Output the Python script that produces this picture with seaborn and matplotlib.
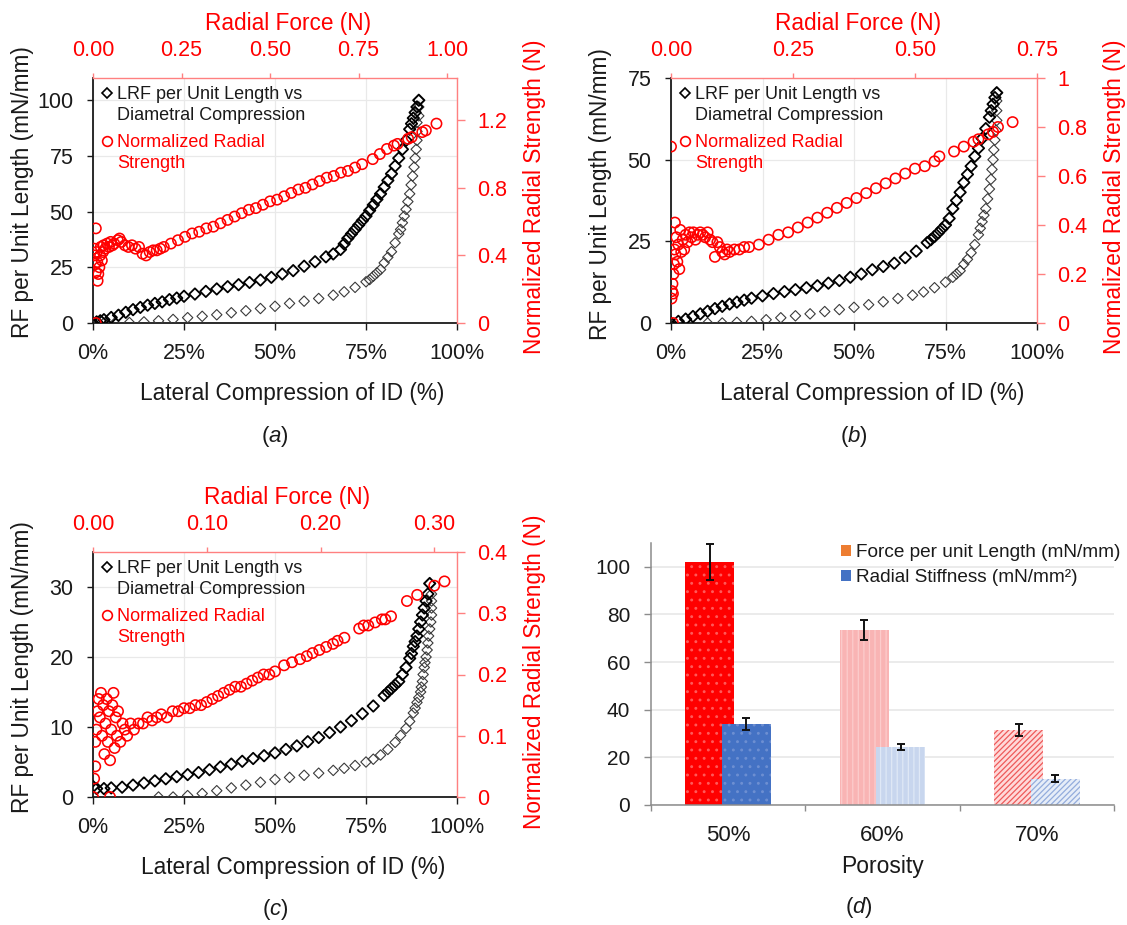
import matplotlib
matplotlib.use("Agg")
import numpy as np
import matplotlib.pyplot as plt
import seaborn as sns
from matplotlib.lines import Line2D
from matplotlib.patches import Patch
from matplotlib.ticker import PercentFormatter, FormatStrFormatter, FuncFormatter, FixedLocator

# ---------------- data ----------------
# Panel (a)
A_load_x = [0, 1, 2, 3, 5, 7, 9, 11, 13, 15, 17, 19, 21, 23, 25, 28, 31, 34, 37, 40, 43, 46, 49, 52, 55,
            58, 61, 64, 66, 68, 69, 70, 71, 72, 73, 74, 75, 76, 77, 78, 79, 80, 81, 82, 83, 84, 85, 86,
            87, 87.5, 88, 88.5, 89, 89.5]
A_load_y = [0, 0.5, 1, 1.5, 2.5, 3.5, 4.8, 6, 7, 8, 8.8, 9.5, 10.5, 11.2, 12, 13, 14.2, 15.3, 16.3, 17.2,
            18.2, 19.3, 20.5, 22, 23.5, 25.5, 27.5, 29.7, 31, 33, 35.5, 38, 40, 42, 44, 46, 48, 50.5, 53,
            55.5, 58, 61, 64, 67, 70.5, 74, 78, 82, 87, 89.5, 92, 94.5, 97, 100]
A_unload_x = [89.5, 89.5, 89.5, 89, 89, 89, 88.8, 88.5, 88.2, 87.8, 87.4, 87, 86.5, 86, 85.5, 85, 84.5,
              84, 83, 82, 81, 80, 79, 78, 77, 76, 75, 72, 69, 66, 62, 58, 54, 50, 46, 42, 38, 34, 30,
              26, 22, 18, 14, 10, 6, 3]
A_unload_y = [100, 97, 93, 90, 86, 82, 78, 74, 70, 66, 62, 58, 54.5, 51, 48, 45, 42, 40, 36, 32, 29.5,
              27, 24, 22.5, 21, 19.5, 18.5, 16, 14, 12.5, 11, 9.8, 8.8, 7.5, 6.5, 5.5, 4.6, 3.7, 3, 2.4,
              1.6, 1, 0.5, 0.2, 0, 0]
A_force = [0.008, 0.008, 0.003, 0.005, 0.006, 0.008, 0.010, 0.012, 0.013, 0.015, 0.018, 0.020, 0.022,
           0.025, 0.028, 0.030, 0.035, 0.040, 0.045, 0.050, 0.055, 0.060, 0.070, 0.075, 0.080, 0.090,
           0.100, 0.110, 0.120, 0.130, 0.140, 0.150, 0.160, 0.170, 0.180, 0.190, 0.200, 0.220, 0.240,
           0.260, 0.280, 0.300, 0.320, 0.340, 0.360, 0.380, 0.400, 0.420, 0.440, 0.460, 0.480, 0.500,
           0.520, 0.540, 0.560, 0.580, 0.600, 0.620, 0.640, 0.660, 0.680, 0.700, 0.720, 0.740, 0.760,
           0.790, 0.810, 0.830, 0.850, 0.860, 0.890, 0.900, 0.930, 0.940, 0.970]
A_norm = [0.00, 0.56, 0.44, 0.40, 0.35, 0.30, 0.42, 0.36, 0.25, 0.29, 0.33, 0.40, 0.45, 0.37, 0.42,
          0.46, 0.44, 0.47, 0.45, 0.48, 0.46, 0.47, 0.49, 0.50, 0.48, 0.46, 0.45, 0.46, 0.44, 0.45,
          0.41, 0.40, 0.42, 0.43, 0.43, 0.44, 0.45, 0.47, 0.49, 0.51, 0.53, 0.54, 0.56, 0.57, 0.59,
          0.61, 0.63, 0.65, 0.67, 0.68, 0.70, 0.72, 0.73, 0.75, 0.77, 0.79, 0.80, 0.82, 0.84, 0.86,
          0.87, 0.89, 0.90, 0.92, 0.94, 0.97, 1.00, 1.03, 1.05, 1.06, 1.09, 1.10, 1.13, 1.14, 1.18]

# Panel (b)
B_load_x = [0, 2, 4, 6, 8, 10, 12, 14, 16, 18, 20, 22, 25, 28, 31, 34, 37, 40, 43, 46, 49, 52, 55, 58,
            61, 64, 67, 70, 71, 72, 73, 74, 75, 76, 77, 78, 79, 80, 81, 82, 83, 84, 85, 86, 87, 87.5,
            88, 88.5, 89]
B_load_y = [0, 0.5, 1.2, 2, 2.8, 3.6, 4.4, 5.1, 5.8, 6.4, 7, 7.6, 8.3, 9, 9.6, 10.2, 10.8, 11.4, 12.2,
            13, 14, 15, 16.3, 17.3, 18.3, 20, 22, 24.6, 25.5, 26.5, 27.6, 28.8, 30, 32, 35, 37.5, 40,
            43, 45.5, 48, 51, 53.5, 56.5, 59.5, 63, 65, 67, 69, 70.5]
B_unload_x = [89, 89, 89, 89, 88.8, 88.5, 88.2, 88, 87.7, 87.4, 87, 86.5, 86, 85.5, 85, 84.5, 84, 83,
              82, 81, 80, 79, 78, 77, 75, 72, 69, 66, 62, 58, 54, 50, 46, 42, 38, 34, 30, 26, 22, 18,
              14, 10]
B_unload_y = [70.5, 68, 65, 62, 59, 56, 53, 50, 47, 44, 41, 38, 35, 33, 31, 29, 27, 24, 21.5, 19.5,
              18, 16, 15, 14, 12.5, 10.8, 9.5, 8.5, 7.5, 6.5, 5.6, 4.8, 4.1, 3.5, 2.8, 2.2, 1.6, 1, 0.5,
              0.2, 0, 0]
B_force = [0.004, 0.0, 0.001, 0.002, 0.003, 0.004, 0.005, 0.006, 0.007, 0.008, 0.009, 0.011, 0.013,
           0.015, 0.017, 0.019, 0.021, 0.024, 0.027, 0.030, 0.034, 0.038, 0.042, 0.046, 0.050, 0.055,
           0.060, 0.065, 0.070, 0.075, 0.080, 0.085, 0.090, 0.095, 0.100, 0.105, 0.110, 0.115, 0.120,
           0.130, 0.140, 0.150, 0.160, 0.180, 0.200, 0.220, 0.240, 0.260, 0.280, 0.300, 0.320, 0.340,
           0.360, 0.380, 0.400, 0.420, 0.440, 0.460, 0.480, 0.500, 0.520, 0.540, 0.550, 0.580, 0.600,
           0.620, 0.630, 0.650, 0.660, 0.670, 0.700]
B_norm = [0.0, 0.72, 0.10, 0.13, 0.16, 0.12, 0.20, 0.24, 0.30, 0.41, 0.28, 0.35, 0.25, 0.32, 0.22,
          0.38, 0.29, 0.34, 0.30, 0.36, 0.33, 0.37, 0.35, 0.37, 0.34, 0.36, 0.37, 0.36, 0.35, 0.37,
          0.34, 0.33, 0.27, 0.33, 0.31, 0.29, 0.28, 0.30, 0.29, 0.30, 0.30, 0.31, 0.31, 0.32, 0.34,
          0.36, 0.37, 0.39, 0.41, 0.43, 0.45, 0.47, 0.49, 0.51, 0.53, 0.55, 0.57, 0.59, 0.61, 0.63,
          0.64, 0.66, 0.68, 0.70, 0.72, 0.74, 0.75, 0.77, 0.78, 0.80, 0.82]

# Panel (c)
C_load_x = [0, 1, 3, 5, 8, 11, 14, 17, 20, 23, 26, 29, 32, 35, 38, 41, 44, 47, 50, 53, 56, 59, 62, 65,
            68, 71, 74, 77, 80, 81, 82, 83, 84, 85, 86, 87, 87.5, 88, 88.5, 89, 89.5, 90, 90.5, 91, 91.5,
            92, 92.5]
C_load_y = [1.5, 1.2, 1.2, 1.3, 1.4, 1.7, 2, 2.3, 2.6, 2.9, 3.2, 3.5, 3.9, 4.3, 4.7, 5.1, 5.5, 5.9, 6.3,
            6.8, 7.3, 7.9, 8.5, 9.2, 10, 10.9, 11.9, 13, 14.5, 15, 15.5, 16, 16.5, 17.5, 18.5, 19.8,
            20.5, 21.5, 22.2, 23, 24, 25, 26, 27, 28, 29, 30.5]
C_unload_x = [92.5, 93, 93, 93, 93, 92.8, 92.5, 92.2, 92, 91.8, 91.5, 91.2, 91, 90.7, 90.5, 90.2, 90,
              89.5, 89, 88.5, 88, 87, 86, 84.5, 83, 81, 79, 77, 75, 72, 69, 66, 62, 58, 54, 50, 46,
              42, 38, 34, 30, 26, 22, 18]
C_unload_y = [30.5, 29, 28, 27, 26, 25, 24, 23, 22, 21, 20, 19.2, 18.5, 17.5, 16.5, 15.7, 15, 14.2,
              13.5, 12.7, 12, 10.8, 9.8, 8.8, 7.8, 6.8, 6, 5.4, 5, 4.5, 4.1, 3.8, 3.4, 3.1, 2.8, 2.5,
              2.1, 1.7, 1.3, 0.9, 0.5, 0.2, 0, 0]
C_force = [0.0, 0.015, 0.001, 0.002, 0.002, 0.003, 0.004, 0.005, 0.006, 0.007, 0.008, 0.009, 0.010,
           0.011, 0.012, 0.013, 0.014, 0.015, 0.016, 0.017, 0.018, 0.019, 0.020, 0.021, 0.022, 0.024,
           0.026, 0.028, 0.030, 0.033, 0.036, 0.040, 0.044, 0.048, 0.052, 0.056, 0.060, 0.065, 0.070,
           0.075, 0.080, 0.085, 0.090, 0.095, 0.100, 0.105, 0.110, 0.115, 0.120, 0.125, 0.130, 0.135,
           0.140, 0.145, 0.150, 0.155, 0.160, 0.168, 0.175, 0.182, 0.188, 0.193, 0.199, 0.205, 0.211,
           0.215, 0.221, 0.234, 0.238, 0.242, 0.248, 0.254, 0.257, 0.262, 0.276, 0.285, 0.300, 0.309]
C_norm = [0.0, 0.0, 0.03, 0.05, 0.09, 0.11, 0.14, 0.16, 0.13, 0.17, 0.10, 0.15, 0.07, 0.12, 0.16,
          0.09, 0.14, 0.06, 0.11, 0.15, 0.17, 0.08, 0.13, 0.10, 0.14, 0.09, 0.12, 0.11, 0.10, 0.12,
          0.11, 0.12, 0.12, 0.13, 0.125, 0.13, 0.135, 0.13, 0.14, 0.14, 0.145, 0.145, 0.15, 0.15,
          0.155, 0.16, 0.165, 0.17, 0.175, 0.18, 0.18, 0.185, 0.19, 0.195, 0.20, 0.20, 0.205, 0.215,
          0.22, 0.225, 0.23, 0.235, 0.24, 0.245, 0.25, 0.255, 0.26, 0.275, 0.28, 0.28, 0.285, 0.29,
          0.29, 0.295, 0.32, 0.33, 0.345, 0.352]

# Panel (d)
porosity = ["50%", "60%", "70%"]
force_per_length = [102, 73.5, 31.5]
force_err = [7.5, 4.3, 2.4]
radial_stiffness = [34, 24.5, 11]
stiffness_err = [2.6, 1.2, 1.4]

# Axis ticks
X_TICKS = [0, 25, 50, 75, 100]
A_left_ticks = [0, 25, 50, 75, 100]
A_right_ticks = [0, 0.4, 0.8, 1.2]
A_top_ticks = [0.0, 0.25, 0.5, 0.75, 1.0]
B_left_ticks = [0, 25, 50, 75]
B_right_ticks = [0, 0.2, 0.4, 0.6, 0.8, 1.0]
B_top_ticks = [0.0, 0.25, 0.5, 0.75]
C_left_ticks = [0, 10, 20, 30]
C_right_ticks = [0, 0.1, 0.2, 0.3, 0.4]
C_top_ticks = [0.0, 0.10, 0.20, 0.30]
D_y_ticks = [0, 20, 40, 60, 80, 100]

# ---------------- style ----------------
sns.set_theme(style="white")
plt.rcParams["font.family"] = ["Liberation Sans", "DejaVu Sans"]
plt.rcParams["mathtext.fontset"] = "custom"
plt.rcParams["mathtext.rm"] = "Liberation Sans"
plt.rcParams["mathtext.it"] = "Liberation Sans:italic"
plt.rcParams["hatch.linewidth"] = 0.9

RED = "#ff0000"
SPINE_RED = "#ff8080"
GRID = "#e9e9e9"
W, H = 1127, 925

fig = plt.figure(figsize=(W / 100, H / 100), dpi=100)


def rect(l, t, r, b):
    return [l / W, 1 - b / H, (r - l) / W, (b - t) / H]


def scatter_panel(box, lx, ly, ux, uy, fx, fy, ylim_l, lticks, ylim_r, rticks, xlim_t, tticks,
                  tfmt, xlab_x, title_x, ylab_y, rlab_y):
    l, t, r, b = box
    w, h = r - l, b - t
    ax = fig.add_axes(rect(*box))
    axr = fig.add_axes(rect(*box), facecolor="none")

    sns.scatterplot(x=ux, y=uy, ax=ax, marker="D", s=28, facecolors="none", edgecolor="#3a3a3a",
                    linewidth=0.8, zorder=3)
    sns.scatterplot(x=lx, y=ly, ax=ax, marker="D", s=34, facecolors="none", edgecolor="black",
                    linewidth=1.3, zorder=3)
    sns.scatterplot(x=fx, y=fy, ax=axr, marker="o", s=55, facecolors="none", edgecolor=RED,
                    linewidth=1.15, zorder=4)

    ax.set_xlim(0, 100)
    ax.set_ylim(*ylim_l)
    ax.set_xticks(X_TICKS)
    ax.set_yticks(lticks)
    ax.xaxis.set_major_formatter(PercentFormatter(xmax=100, decimals=0))
    ax.grid(True, color=GRID, lw=0.9)
    ax.set_axisbelow(True)
    for s in ["top", "right"]:
        ax.spines[s].set_visible(False)
    for s in ["left", "bottom"]:
        ax.spines[s].set_color("#1a1a1a")
        ax.spines[s].set_linewidth(1.3)
    ax.tick_params(axis="y", left=True, right=False, direction="out", length=4.5, width=1,
                   color="#1a1a1a", labelsize=15.5, pad=9.5, labelcolor="#1a1a1a")
    ax.tick_params(axis="x", bottom=True, top=False, direction="out", length=5, width=1,
                   color="#1a1a1a", labelsize=15.5, pad=9.5, labelcolor="#1a1a1a")
    ax.set_xlabel("Lateral Compression of ID (%)", fontsize=16.3, color="#1a1a1a")
    ax.set_ylabel("RF per Unit Length (mN/mm)", fontsize=16.3, color="#1a1a1a")
    ax.xaxis.set_label_coords(xlab_x, -59 / h)
    ax.yaxis.set_label_coords(-59 / w, ylab_y)

    axr.set_xlim(*xlim_t)
    axr.set_ylim(*ylim_r)
    axr.set_xticks(tticks)
    axr.set_yticks(rticks)
    axr.xaxis.set_major_formatter(FormatStrFormatter(tfmt))
    axr.yaxis.set_major_formatter(FuncFormatter(lambda v, p: f"{v:g}"))
    axr.xaxis.tick_top()
    axr.xaxis.set_label_position("top")
    axr.yaxis.tick_right()
    axr.yaxis.set_label_position("right")
    axr.grid(False)
    for s in ["left", "bottom"]:
        axr.spines[s].set_visible(False)
    for s in ["top", "right"]:
        axr.spines[s].set_visible(True)
        axr.spines[s].set_color(SPINE_RED)
        axr.spines[s].set_linewidth(1.0)
    axr.tick_params(axis="x", top=True, bottom=False, labeltop=True, labelbottom=False,
                    direction="out", length=3.5, width=1, color=SPINE_RED, labelcolor=RED,
                    labelsize=15.5, pad=9)
    axr.tick_params(axis="y", right=True, left=False, labelright=True, labelleft=False,
                    direction="out", length=6, width=1, color=SPINE_RED, labelcolor=RED,
                    labelsize=15.5, pad=8.5)
    axr.set_xlabel("Radial Force (N)", fontsize=16.3, color=RED)
    axr.set_ylabel("Normalized Radial Strength (N)", fontsize=16.3, color=RED)
    axr.xaxis.set_label_coords(title_x, 1 + 48 / h)
    axr.yaxis.set_label_coords(1 + 66 / w, rlab_y)

    diamond = Line2D([], [], ls="none", marker="D", ms=5.5, mfc="none", mec="black", mew=1.2)
    circle = Line2D([], [], ls="none", marker="o", ms=7, mfc="none", mec=RED, mew=1.2)
    blank = Line2D([], [], ls="none")
    common = dict(loc="upper left", frameon=False, fontsize=13, handlelength=0.8,
                  handletextpad=0.15, labelspacing=0.2, borderpad=0, borderaxespad=0)
    leg1 = axr.legend([diamond, blank], ["LRF per Unit Length vs", "Diametral Compression"],
                      bbox_to_anchor=(7 / w, 1 - 8 / h), labelcolor="#1a1a1a", **common)
    axr.add_artist(leg1)
    axr.legend([circle, blank], ["Normalized Radial", "Strength"],
               bbox_to_anchor=(7 / w, 1 - 56 / h), labelcolor=RED, **common)
    return ax, axr


scatter_panel((93, 78, 457, 323), A_load_x, A_load_y, A_unload_x, A_unload_y, A_force, A_norm,
              (0, 110), A_left_ticks, (0, 1.45), A_right_ticks, (0, 1.028), A_top_ticks, "%.2f",
              0.547, 0.536, 0.533, 0.516)
scatter_panel((671, 78, 1037, 323), B_load_x, B_load_y, B_unload_x, B_unload_y, B_force, B_norm,
              (0, 75), B_left_ticks, (0, 1.0), B_right_ticks, (0, 0.75), B_top_ticks, "%.2f",
              0.549, 0.51, 0.528, 0.516)
scatter_panel((93, 552, 457, 797), C_load_x, C_load_y, C_unload_x, C_unload_y, C_force, C_norm,
              (0, 35), C_left_ticks, (0, 0.4), C_right_ticks, (0, 0.32), C_top_ticks, "%.2f",
              0.549, 0.534, 0.532, 0.512)

# ---------------- panel (d) ----------------
dl, dt, dr, db = 651, 543, 1114, 805
axd = fig.add_axes(rect(dl, dt, dr, db))
pos = np.arange(len(porosity))
off, bw = 0.118, 0.318
red_face = ["#ff0000", "#f9b4b4", "#ffd9d9"]
red_hatch_col = ["#ff5a5a", "#fccccc", "#ee5a5a"]
blue_face = ["#4472c4", "#c8d6ee", "#e6edf8"]
blue_hatch_col = ["#6d8fd2", "#dfe8f6", "#93acdc"]
hatches = ["..", "|||", "//////"]
for i in range(len(porosity)):
    axd.bar(pos[i] - off, force_per_length[i], width=bw, color=red_face[i],
            edgecolor=red_hatch_col[i], hatch=hatches[i], linewidth=0, zorder=2)
for i in range(len(porosity)):
    axd.bar(pos[i] + off, radial_stiffness[i], width=bw, color=blue_face[i],
            edgecolor=blue_hatch_col[i], hatch=hatches[i], linewidth=0, zorder=2)
axd.errorbar(pos - off, force_per_length, yerr=force_err, fmt="none", ecolor="#111111",
             elinewidth=1.4, capsize=2.6, capthick=1.4, zorder=3)
axd.errorbar(pos + off, radial_stiffness, yerr=stiffness_err, fmt="none", ecolor="#111111",
             elinewidth=1.4, capsize=2.6, capthick=1.4, zorder=3)

axd.set_xlim(-0.5, len(porosity) - 0.5)
axd.set_ylim(0, 110)
axd.set_yticks(D_y_ticks)
axd.set_xticks(pos)
axd.set_xticklabels(porosity)
axd.xaxis.set_minor_locator(FixedLocator(np.arange(-0.5, len(porosity), 1.0)))
axd.yaxis.grid(True, color="#e6e6e6", lw=1.1)
axd.set_axisbelow(True)
for s in ["top", "right"]:
    axd.spines[s].set_visible(False)
for s in ["left", "bottom"]:
    axd.spines[s].set_color("#8c8c8c")
    axd.spines[s].set_linewidth(1.1)
axd.tick_params(axis="y", left=True, direction="out", length=5, width=1, color="#8c8c8c",
                labelsize=15, pad=10, labelcolor="#1a1a1a")
axd.tick_params(axis="x", which="major", bottom=True, length=0, labelsize=16, pad=14.5,
                labelcolor="#1a1a1a")
axd.tick_params(axis="x", which="minor", bottom=True, direction="out", length=4.5, width=1,
                color="#8c8c8c")
axd.set_xlabel("Porosity", fontsize=16.5, color="#1a1a1a")
axd.xaxis.set_label_coords(0.5, -50 / (db - dt))

leg_handles = [Patch(facecolor="#ed7d31", edgecolor="none"), Patch(facecolor="#4472c4", edgecolor="none")]
axd.legend(leg_handles, ["Force per unit Length (mN/mm)", "Radial Stiffness (mN/mm²)"],
           loc="upper left", bbox_to_anchor=((841 - dl) / (dr - dl), 1 - 1 / (db - dt)),
           frameon=False, fontsize=13.7, handlelength=0.5, handleheight=0.5,
           handletextpad=0.3, labelspacing=0.42, borderpad=0, borderaxespad=0,
           labelcolor="#1a1a1a")

# ---------------- panel tags ----------------
for label, x, y in [("a", 275, 436), ("b", 854, 436), ("c", 275, 910), ("d", 859, 907)]:
    fig.text(x / W, 1 - y / H, r"($\it{" + label + r"}$)", ha="center", va="center",
             fontsize=16, color="#1a1a1a")

fig.savefig("out.png", dpi=100)
